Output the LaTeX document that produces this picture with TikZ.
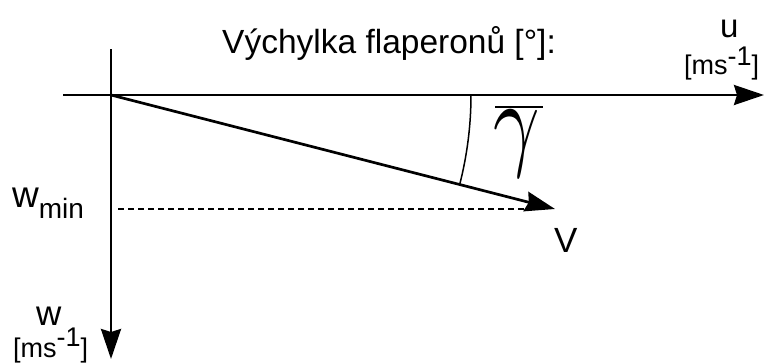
\documentclass[tikz,border=0pt]{standalone}
\usepackage{fontspec}
\setmainfont{Liberation Sans}
\usetikzlibrary{arrows.meta,calc}
\begin{document}
\begin{tikzpicture}[x=1pt,y=-1pt,
  axis/.style={line width=2.7pt,-{Stealth[length=30pt,width=20pt,inset=3pt]}},
  thin/.style={line width=1.5pt},
  lbl/.style={inner sep=0pt,anchor=base west},
  unitlbl/.style={inner sep=0pt,anchor=base west,font=\fontsize{27}{30}\selectfont}]
\useasboundingbox (0,0) rectangle (772,362);
\coordinate (O) at (111,95);
\coordinate (xs) at (63,95);
\coordinate (xe) at (764,95);
\coordinate (ys) at (111,49);
\coordinate (ye) at (111,359);
\coordinate (ve) at (555,209);
\coordinate (ds) at (118,209);
\coordinate (de) at (530,209);
\coordinate (as) at ($(O)+(360,0)$);
\draw[axis] (xs) -- (xe);
\draw[axis] (ys) -- (ye);
\draw[axis] (O) -- (ve);
\draw[thin,dash pattern=on 6pt off 4pt] (ds) -- (de);
\draw[thin] (as) arc[start angle=0,end angle=14.5,radius=360];
\node[lbl,font=\fontsize{33.5}{40}\selectfont] (title) at (222,53) {Výchylka flaperonů [°]:};
\node[lbl,font=\fontsize{33}{38}\selectfont] (u) at (720,37) {u};
\node[unitlbl] (uu) at (684,74) {[ms\raisebox{9pt}{-1}]};
\node[lbl,font=\fontsize{37}{40}\selectfont] (wmin) at (12,207) {w\raisebox{-11pt}{\fontsize{28}{30}\selectfont min}};
\node[lbl,font=\fontsize{35}{40}\selectfont] (V) at (554,252) {V};
\node[lbl,font=\fontsize{35}{40}\selectfont] (w) at (36,325) {w};
\node[unitlbl] (wu) at (13,357) {[ms\raisebox{11pt}{-1}]};
\node[lbl] (g) at (493,156) {\scalebox{8.1}[10.7]{$\gamma$}};
\coordinate (ol1) at (495,107);
\coordinate (ol2) at (543,107);
\draw[thin] (ol1) -- (ol2);
\end{tikzpicture}
\end{document}
